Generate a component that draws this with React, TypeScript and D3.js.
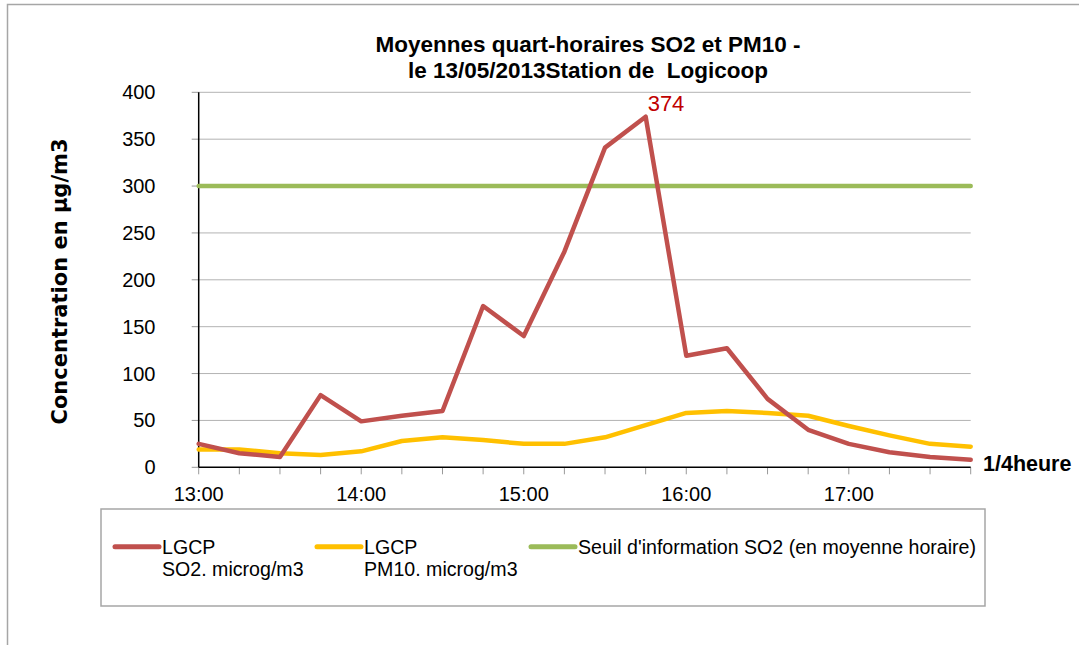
import React from "react";
import * as d3 from "d3";

const categories = [
  "13:00", "13:15", "13:30", "13:45", "14:00", "14:15", "14:30", "14:45",
  "15:00", "15:15", "15:30", "15:45", "16:00", "16:15", "16:30", "16:45",
  "17:00", "17:15", "17:30", "17:45",
];
const so2 = [25, 15, 11, 77, 49, 55, 60, 172, 140, 230, 341, 374, 119, 127, 73, 40, 25, 16, 11, 8];
const pm10 = [19, 19, 15, 13, 17, 28, 32, 29, 25, 25, 32, 45, 58, 60, 58, 55, 44, 34, 25, 22];
const threshold = 300;
const yTicks = [0, 50, 100, 150, 200, 250, 300, 350, 400];
const hourLabels = ["13:00", "14:00", "15:00", "16:00", "17:00"];
const titleLines = ["Moyennes quart-horaires SO2 et PM10 -", "le 13/05/2013Station de  Logicoop"];
const yTitle = "Concentration en µg/m3";
const xTitle = "1/4heure";
const peakLabel = "374";
const legendItems = [
  { lines: ["LGCP", "SO2. microg/m3"], color: "#c0504d" },
  { lines: ["LGCP", "PM10. microg/m3"], color: "#ffc000" },
  { lines: ["Seuil d'information SO2 (en moyenne horaire)"], color: "#9bbb59" },
];

const FONT = "'Liberation Sans', Arial, sans-serif";

export default function App() {
  const x = d3.scalePoint<string>().domain(categories).range([198.7, 970.7]);
  const y = d3.scaleLinear().domain([0, 400]).range([467.3, 92.3]);
  const line = d3
    .line<number>()
    .x((_, i) => x(categories[i]) as number)
    .y((d) => y(d));
  const x0 = x(categories[0]) as number;
  const x1 = x(categories[categories.length - 1]) as number;
  const peakIdx = so2.indexOf(d3.max(so2) as number);
  const legendX = [115, 317, 531];

  return (
    <svg
      width={1079}
      height={645}
      style={{ position: "absolute", left: 0, top: 0, background: "#fff" }}
    >
      <rect x={0} y={0} width={1079} height={645} fill="#fff" />
      <rect x={7.5} y={4.5} width={1200} height={800} fill="none" stroke="#a6a6a6" strokeWidth={1.5} />

      {/* Title */}
      {titleLines.map((t, i) => (
        <text
          key={i}
          x={588}
          y={51.5 + i * 26}
          textAnchor="middle"
          fontFamily={FONT}
          fontWeight="bold"
          fontSize={22.5}
          style={{ whiteSpace: "pre" }}
          fill="#000"
        >
          {t}
        </text>
      ))}

      {/* gridlines */}
      {yTicks.map((t) => (
        <g key={t}>
          {t > 0 && (
            <line x1={x0} x2={x1} y1={y(t)} y2={y(t)} stroke="#b3b3b3" strokeWidth={1} />
          )}
          <line x1={x0 - 7} x2={x0} y1={y(t)} y2={y(t)} stroke="#999" strokeWidth={1} />
          <text
            x={155.5}
            y={y(t) + 7}
            textAnchor="end"
            fontFamily={FONT}
            fontSize={20}
            fill="#000"
          >
            {t}
          </text>
        </g>
      ))}

      {/* x ticks */}
      {categories.map((c) => (
        <line
          key={c}
          x1={x(c)}
          x2={x(c)}
          y1={y(0)}
          y2={y(0) + 7}
          stroke="#999"
          strokeWidth={1}
        />
      ))}
      {hourLabels.map((c) => (
        <text
          key={c}
          x={x(c)}
          y={500.5}
          textAnchor="middle"
          fontFamily={FONT}
          fontSize={20}
          fill="#000"
        >
          {c}
        </text>
      ))}

      {/* axes */}
      <line x1={x0} x2={x0} y1={y(400)} y2={y(0)} stroke="#000" strokeWidth={1.5} />
      <line x1={x0} x2={x1} y1={y(0)} y2={y(0)} stroke="#000" strokeWidth={1.5} />

      {/* threshold */}
      <line
        x1={x0}
        x2={x1}
        y1={y(threshold)}
        y2={y(threshold)}
        stroke="#9bbb59"
        strokeWidth={4.5}
        strokeLinecap="round"
      />

      {/* series */}
      <path d={line(pm10) as string} fill="none" stroke="#ffc000" strokeWidth={4.5} strokeLinejoin="round" strokeLinecap="round" />
      <path d={line(so2) as string} fill="none" stroke="#c0504d" strokeWidth={4.5} strokeLinejoin="round" strokeLinecap="round" />

      {/* peak label */}
      <text
        x={(x(categories[peakIdx]) as number) + 2}
        y={111}
        fontFamily={FONT}
        fontSize={22}
        fill="#c00000"
      >
        {peakLabel}
      </text>

      {/* axis titles */}
      <text
        transform={`translate(66.5,281.5) rotate(-90)`}
        textAnchor="middle"
        fontFamily="'DejaVu Sans', Verdana, sans-serif"
        fontWeight="bold"
        fontSize={21}
        fill="#000"
      >
        {yTitle}
      </text>
      <text x={983} y={471} fontFamily={FONT} fontWeight="bold" fontSize={21.5} fill="#000">
        {xTitle}
      </text>

      {/* legend */}
      <rect x={101} y={509} width={884} height={97} fill="#fff" stroke="#a6a6a6" strokeWidth={1.5} />
      {legendItems.map((it, i) => (
        <g key={i}>
          <line
            x1={legendX[i]}
            x2={legendX[i] + 44}
            y1={546.7}
            y2={546.7}
            stroke={it.color}
            strokeWidth={5}
            strokeLinecap="round"
          />
          {it.lines.map((l, j) => (
            <text
              key={j}
              x={legendX[i] + 47}
              y={554.3 + j * 21.7}
              fontFamily={FONT}
              fontSize={19.6}
              fill="#000"
            >
              {l}
            </text>
          ))}
        </g>
      ))}
    </svg>
  );
}
